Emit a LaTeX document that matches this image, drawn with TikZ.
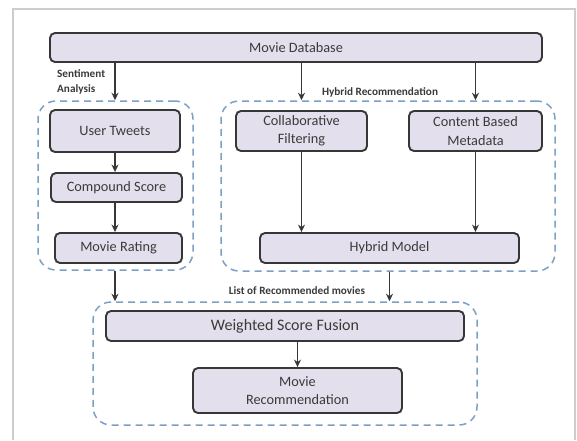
\documentclass[tikz,border=0pt]{standalone}
\usepackage{fontspec}
\setmainfont{Carlito}
\usetikzlibrary{arrows.meta}
\definecolor{boxfill}{RGB}{228,223,236}
\definecolor{boxline}{RGB}{55,55,55}
\definecolor{grpline}{RGB}{125,160,198}
\definecolor{txt}{RGB}{58,58,58}
\definecolor{framec}{RGB}{205,205,205}
\begin{document}
\begin{tikzpicture}[x=1pt,y=-1pt,
  procbox/.style={draw=boxline,fill=boxfill,line width=1.9pt,rounded corners=5pt,
    inner sep=0pt,align=center,text=txt,font=\fontsize{14.3}{18.5}\selectfont},
  grpbox/.style={draw=grpline,line width=1.5pt,dash pattern=on 7pt off 5pt,
    rounded corners=18pt,inner sep=0pt},
  lbl/.style={text=txt,font=\bfseries\fontsize{11.2}{14.5}\selectfont,inner sep=0pt},
  arr/.style={draw=boxline,line width=1.5pt,-{Stealth[length=7.5pt,width=7pt]}}]
\useasboundingbox (0,0) rectangle (577,440);
\fill[white] (0,0) rectangle (577,440);
\draw[framec,line width=2pt] (13,440) -- (13,9) -- (575,9) -- (575,440);

% groups
\node[grpbox,minimum width=155pt,minimum height=169pt] (lg) at (115.5,185.5) {};
\node[grpbox,minimum width=334pt,minimum height=170pt] (rg) at (388,186) {};
\node[grpbox,minimum width=384pt,minimum height=123pt] (bg) at (285,363.5) {};

% boxes
\node[procbox,minimum width=492pt,minimum height=29pt] (md) at (296,47.5) {Movie Database};
\node[procbox,minimum width=130pt,minimum height=42pt] (ut) at (115,131) {User Tweets};
\node[procbox,minimum width=131pt,minimum height=29pt] (cs) at (116.5,187.5) {Compound Score};
\node[procbox,minimum width=127pt,minimum height=30pt] (mr) at (118.5,248) {Movie Rating};
\node[procbox,minimum width=131pt,minimum height=40pt] (cf) at (301.5,131) {Collaborative\\Filtering};
\node[procbox,minimum width=133pt,minimum height=40pt] (cb) at (475.5,131) {Content Based\\Metadata};
\node[procbox,minimum width=259pt,minimum height=30pt] (hm) at (389.5,248) {Hybrid Model};
\node[procbox,minimum width=358pt,minimum height=30pt,font=\fontsize{16}{18}\selectfont] (wsf) at (285,326) {Weighted Score Fusion};
\node[procbox,minimum width=209pt,minimum height=45pt] (rec) at (297.5,390.5) {Movie\\Recommendation};

% labels
\node[lbl,anchor=west,align=left] (sa) at (57,82) {Sentiment\\Analysis};
\node[lbl] (hr) at (380,92) {Hybrid Recommendation};
\node[lbl] (lr) at (297,291) {List of Recommended movies};

% arrows
\draw[arr] (md.south -| ut.north) -- (lg.north -| ut.north);
\draw[arr] (md.south -| cf.north) -- (rg.north -| cf.north);
\draw[arr] (md.south -| cb.north) -- (rg.north -| cb.north);
\draw[arr] (ut.south) -- (ut.south |- cs.north);
\draw[arr] (cs.south -| ut.south) -- (mr.north -| ut.south);
\draw[arr] (cf.south) -- (cf.south |- hm.north);
\draw[arr] (cb.south) -- (cb.south |- hm.north);
\draw[arr] (lg.south -| ut.south) -- (bg.north -| ut.south);
\draw[arr] (rg.south -| hm.south) -- (bg.north -| hm.south);
\draw[arr] (wsf.south -| rec.north) -- (rec.north);
\end{tikzpicture}
\end{document}
